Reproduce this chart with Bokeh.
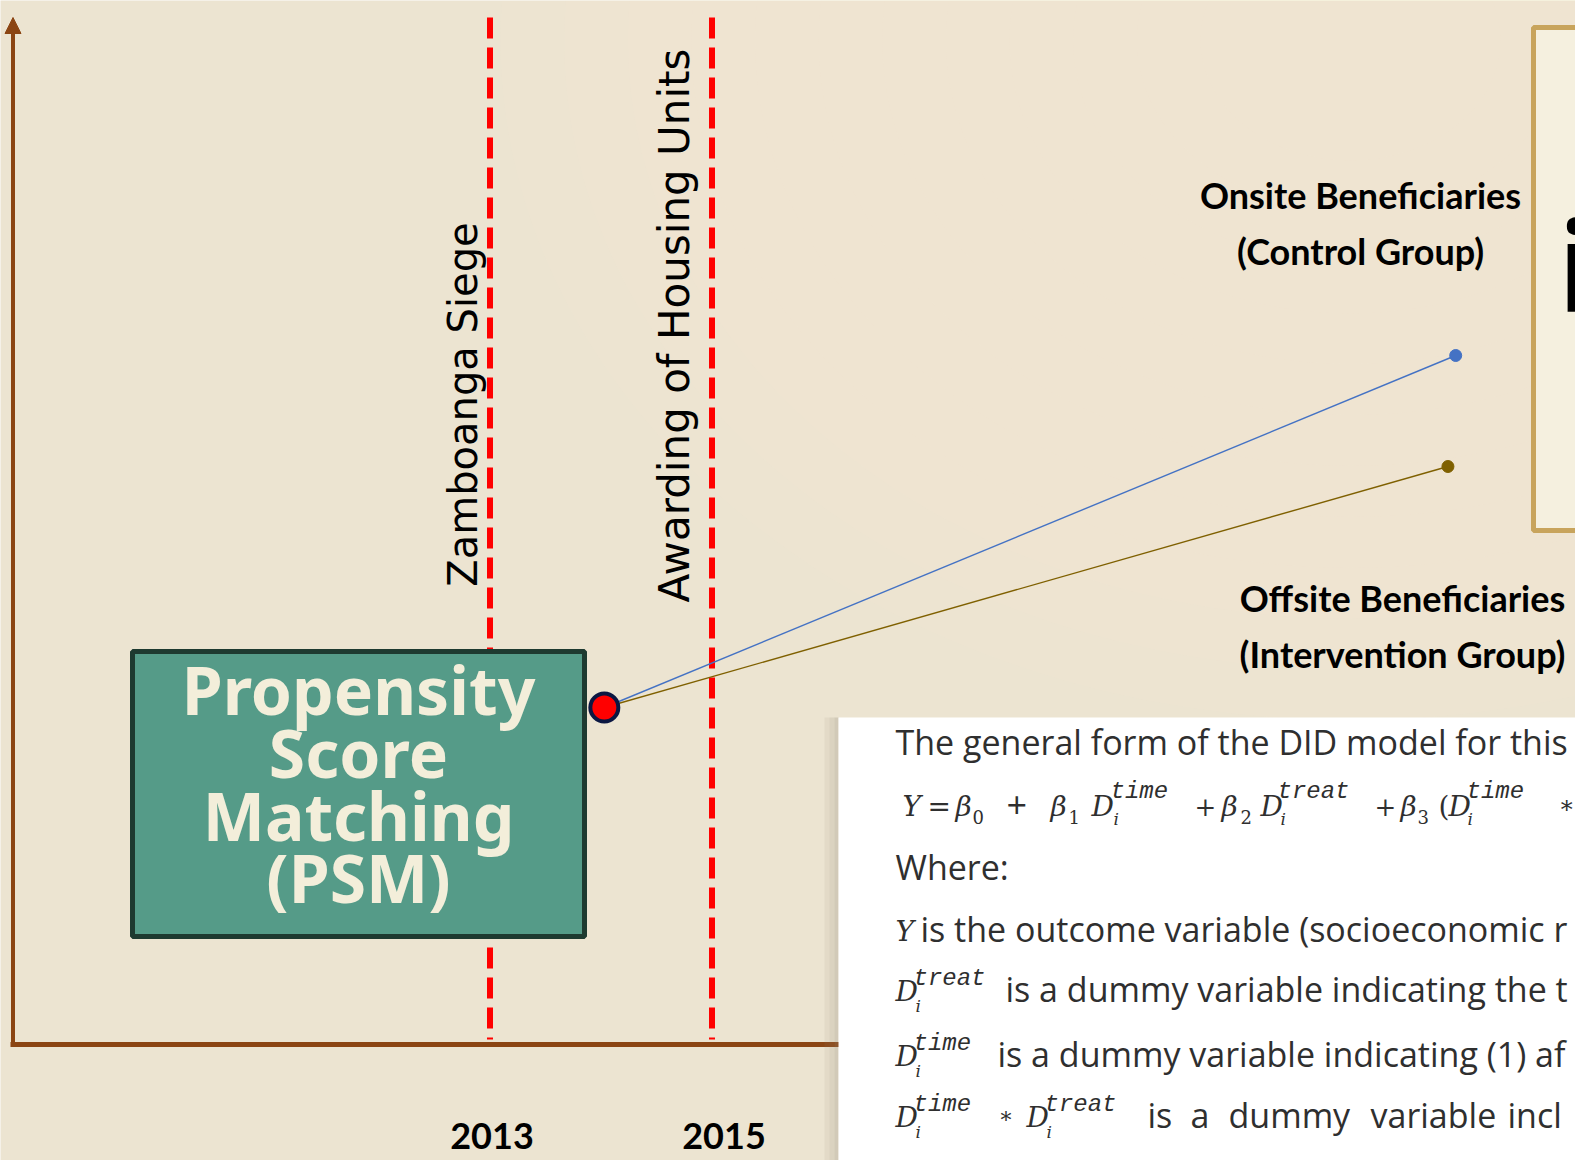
import numpy as np
from bokeh.plotting import figure
from bokeh.models import Range1d, Arrow, NormalHead
from bokeh.core.properties import value
from bokeh.embed import file_html
from bokeh.resources import INLINE

# ---------------- data ----------------
event_years = [2013, 2015]
event_labels = ["Zamboanga Siege", "Awarding of Housing Units"]
tick_labels = ["2013", "2015"]
psm_year = 2014.03
psm_outcome = 337
group_end_years = [2021.70, 2021.63]
group_end_outcomes = [689, 578]
group_colors = ["#4472C4", "#7F6000"]
onsite_lines = ["Onsite Beneficiaries", "(Control Group)"]
offsite_lines = ["Offsite Beneficiaries", "(Intervention Group)"]
psm_lines = ["Propensity", "Score", "Matching", "(PSM)"]

# ---------------- layout helpers (page pixel -> data) ----------------
PX_PER_YEAR = 111.0
X0_PX = 489.5
BASE_PY = 1044.0
W, H = 1575, 1160
BL = 0.41  # empirical baseline correction (fraction of font size)


def fx(px):
    return 2013 + (px - X0_PX) / PX_PER_YEAR


def fy(py):
    return BASE_PY - py


BG = "#ECE4D1"
BROWN = "#8B4513"
TXT = "#2F2F2F"
BODY = "Open Sans"
MATH = "DejaVu Serif"
MONO = "Liberation Mono"
LABEL = "Lato"

p = figure(width=W, height=H,
           x_range=Range1d(fx(0), fx(W)), y_range=Range1d(fy(H), fy(0)),
           output_backend="svg", toolbar_location=None, min_border=0,
           x_axis_location=None, y_axis_location=None)
p.grid.visible = False
p.outline_line_color = None
p.background_fill_color = BG
p.border_fill_color = BG


def txt(xs, ys, texts, size, font, style="normal", color="#000000",
        align="left", angle=0.0):
    if angle == 0.0:
        xx = [fx(v) for v in xs]
        yy = [fy(v - BL * size) for v in ys]
    else:
        xx = [fx(v - BL * size) for v in xs]
        yy = [fy(v) for v in ys]
    p.text(x=xx, y=yy, text=list(texts),
           angle=angle, text_font=value(font), text_font_size=value(f"{size}px"),
           text_font_style=style, text_color=color, text_align=align,
           text_baseline="alphabetic")


# soft lighter glow to the top right
for w in np.linspace(1700, 300, 12):
    p.ellipse(x=[fx(1350)], y=[fy(40)], width=w / PX_PER_YEAR, height=w * 0.8,
              fill_color="#F8F3E3", fill_alpha=0.06, line_color=None)

# axes (arrow + baseline)
p.add_layout(Arrow(end=NormalHead(size=16, fill_color=BROWN, line_color=BROWN),
                   x_start=fx(12.5), y_start=fy(1046), x_end=fx(12.5), y_end=fy(17),
                   line_color=BROWN, line_width=4))
p.segment(x0=[fx(10)], y0=[fy(1044)], x1=[fx(845)], y1=[fy(1044)],
          line_color=BROWN, line_width=5)

# event lines
p.segment(x0=event_years, y0=[fy(17)] * 2, x1=event_years, y1=[fy(1039)] * 2,
          line_color="#FF0000", line_width=6, line_dash="21 9")

# event labels (rotated, reading upward)
txt([479], [404], event_labels[:1], 40, "DejaVu Sans", align="center", angle=np.pi / 2)
txt([691], [325], event_labels[1:], 42, "DejaVu Sans", align="center", angle=np.pi / 2)

# year tick labels
p.text(x=event_years, y=[fy(1150 - BL * 36)] * 2, text=tick_labels, x_offset=[2, 12],
       text_font=value(LABEL), text_font_size=value("36px"), text_font_style="bold",
       text_color="#000000", text_align="center", text_baseline="alphabetic")

# PSM box
p.quad(left=[fx(132)], right=[fx(584)], top=[fy(651)], bottom=[fy(936)],
       fill_color="#559B88", line_color="#1E3A30", line_width=5)
txt([358] * 4, [716, 779, 842, 904], psm_lines, 66, "Noto Sans", style="bold",
    color="#F3EEDA", align="center")

# group trajectories
p.segment(x0=[psm_year] * 2, y0=[psm_outcome] * 2, x1=group_end_years,
          y1=group_end_outcomes, line_color=group_colors, line_width=1.4)
p.scatter(group_end_years, group_end_outcomes, size=12, color=group_colors)
p.scatter([psm_year], [psm_outcome], size=28, fill_color="#FF0000",
          line_color="#0B1742", line_width=4)

# group labels
txt([1360, 1360], [209, 265], onsite_lines, 36, LABEL, style="bold", align="center")
txt([1402, 1402], [612, 668], offsite_lines, 36, LABEL, style="bold", align="center")

# gold framed box at the right
p.quad(left=[fx(1533)], right=[fx(1620)], top=[fy(27)], bottom=[fy(530)],
       fill_color="#F5F0DF", line_color="#C8A45C", line_width=5)
txt([1558], [313], ["i"], 123, "Noto Sans", style="bold")

# white text panel with soft shadow
for (a, b, al) in [(824, 829, 0.10), (829, 834, 0.18), (834, 838, 0.28)]:
    p.quad(left=[fx(a)], right=[fx(b)], top=[fy(717)], bottom=[fy(1200)],
           fill_color="#8F8776", fill_alpha=al, line_color=None)
p.quad(left=[fx(838)], right=[fx(1620)], top=[fy(717)], bottom=[fy(1200)],
       fill_color="#FFFFFF", line_color=None)

# panel text
txt([895], [755], ["The general form of the DID model for this"], 34, BODY, color=TXT)
# equation
txt([902, 955, 1050, 1091, 1221, 1260, 1400, 1448], [817] * 8,
    ["Y", "β", "β", "D", "β", "D", "β", "D"], 28, MATH, style="italic", color=TXT)
txt([927, 1438], [817, 817], ["=", "("], 28, MATH, color=TXT)
txt([1006], [819], ["+"], 36, BODY, color=TXT)
txt([1194, 1374], [817, 817], ["+", "+"], 26, MATH, color=TXT)
txt([1558], [814], ["∗"], 24, MATH, color=TXT)
txt([972, 1068, 1240, 1417], [824] * 4, ["0", "1", "2", "3"], 18, MATH, color=TXT)
txt([1113, 1280, 1467], [825] * 3, ["i", "i", "i"], 17, MATH, style="italic", color=TXT)
txt([1110, 1277, 1466], [801] * 3, ["time", "treat", "time"], 24, MONO,
    style="italic", color=TXT)

txt([895], [880], ["Where:"], 34, BODY, color=TXT)

txt([895], [942], ["Y"], 28, MATH, style="italic", color=TXT)
txt([920], [942], ["is the outcome variable (socioeconomic r"], 34, BODY, color=TXT)

# D^treat / D^time lines
txt([895, 895, 895, 1026], [1002, 1067, 1128, 1128], ["D", "D", "D", "D"], 28, MATH,
    style="italic", color=TXT)
txt([913, 913, 913, 1044], [988, 1053, 1114, 1114], ["treat", "time", "time", "treat"],
    24, MONO, style="italic", color=TXT)
txt([915, 915, 915, 1046], [1012, 1077, 1138, 1138], ["i", "i", "i", "i"], 17, MATH,
    style="italic", color=TXT)
txt([998], [1124], ["∗"], 22, MATH, color=TXT)
txt([1005], [1002], ["is a dummy variable indicating the t"], 34, BODY, color=TXT)
txt([997], [1067], ["is a dummy variable indicating (1) af"], 34, BODY, color=TXT)
txt([1147, 1190, 1228, 1370, 1507], [1128] * 5,
    ["is", "a", "dummy", "variable", "incl"], 34, BODY, color=TXT)

html = file_html(p, INLINE, title="DID timeline")
open("out.html", "w").write(html)
